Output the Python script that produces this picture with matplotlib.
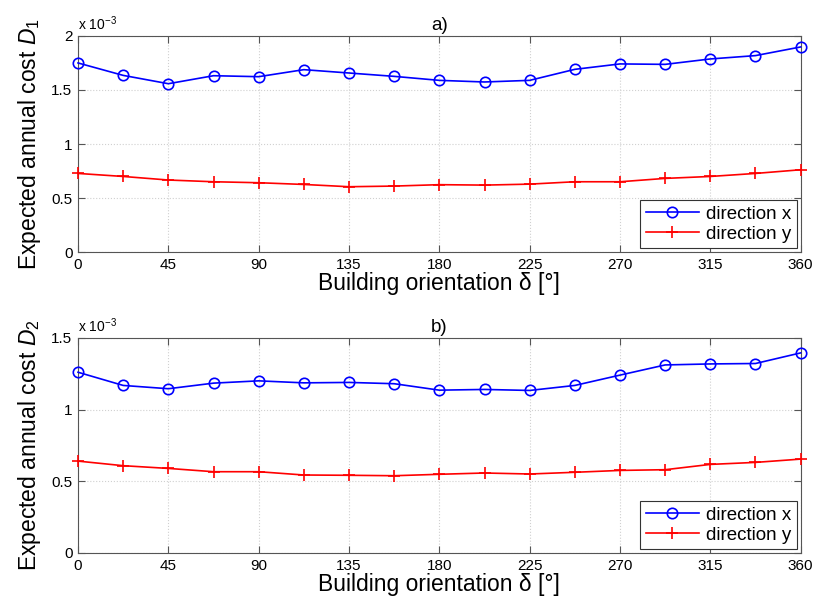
import numpy as np
import matplotlib
matplotlib.use('Agg')
import matplotlib.pyplot as plt

plt.rcParams['font.family'] = ['Liberation Sans', 'DejaVu Sans']
plt.rcParams['mathtext.fontset'] = 'custom'
plt.rcParams['mathtext.rm'] = 'Liberation Sans'
plt.rcParams['mathtext.it'] = 'Liberation Sans:italic'

# building orientation [deg]
orientation = np.arange(0, 360.1, 22.5)

# expected annual cost, units of 1e-3
D1_x = [1.750, 1.635, 1.558, 1.632, 1.623, 1.688, 1.657, 1.626, 1.589,
        1.574, 1.589, 1.691, 1.741, 1.737, 1.787, 1.818, 1.898]
D1_y = [0.728, 0.700, 0.667, 0.651, 0.642, 0.626, 0.605, 0.611, 0.624,
        0.620, 0.629, 0.651, 0.651, 0.682, 0.700, 0.728, 0.762]
D2_x = [1.261, 1.169, 1.146, 1.185, 1.201, 1.187, 1.190, 1.181, 1.136,
        1.141, 1.134, 1.169, 1.241, 1.312, 1.319, 1.322, 1.396]
D2_y = [0.641, 0.609, 0.590, 0.567, 0.567, 0.544, 0.542, 0.539, 0.549,
        0.558, 0.551, 0.563, 0.576, 0.581, 0.618, 0.632, 0.655]

panels = [
    ('a)', r'Expected annual cost $D_1$', D1_x, D1_y, 2.0, [0, 0.5, 1, 1.5, 2]),
    ('b)', r'Expected annual cost $D_2$', D2_x, D2_y, 1.5, [0, 0.5, 1, 1.5]),
]

fig = plt.figure(figsize=(8.17, 6.09), dpi=100)
ax_a = fig.add_axes([0.0955, 0.586, 0.8845, 0.355])
ax_b = fig.add_axes([0.0955, 0.092, 0.8845, 0.353])

for ax, (title, ylab, dx, dy, ymax, yticks) in zip([ax_a, ax_b], panels):
    ax.plot(orientation, dx, '-o', color='#0000ff', lw=1.2, ms=7.5,
            mfc='none', mew=1.2, label='direction x', clip_on=False, zorder=3)
    ax.plot(orientation, dy, '-+', color='#ff0000', lw=1.2, ms=9,
            mew=1.2, label='direction y', clip_on=False, zorder=3)
    ax.set_xlim(0, 360)
    ax.set_ylim(0, ymax)
    ax.set_xticks(np.arange(0, 361, 45))
    ax.set_yticks(yticks)
    ax.set_yticklabels(['%g' % t for t in yticks])
    ax.grid(True, color='#d0d0d0', linestyle=':', linewidth=0.8)
    ax.tick_params(direction='in', top=True, right=True, labelsize=11,
                   length=5, width=0.8, color='#555555', pad=4)
    for s in ax.spines.values():
        s.set_color('#555555')
        s.set_linewidth(0.8)
    ax.set_title(title, fontsize=13.5, pad=4)
    ax.set_xlabel('Building orientation δ [°]', fontsize=16.5, labelpad=0)
    ax.set_ylabel(ylab, fontsize=16.5, labelpad=6)
    ax.text(0.0, 1.012, r'x 10$^{-3}$', transform=ax.transAxes,
            fontsize=10, ha='left', va='bottom')
    leg = ax.legend(loc='lower right', fontsize=13.5, fancybox=False,
                    framealpha=1, edgecolor='#333333', borderaxespad=0.2,
                    handlelength=2.8, borderpad=0.3, labelspacing=0.15,
                    handletextpad=0.4)
    leg.get_frame().set_linewidth(0.8)

fig.savefig('out.png', dpi=100)
